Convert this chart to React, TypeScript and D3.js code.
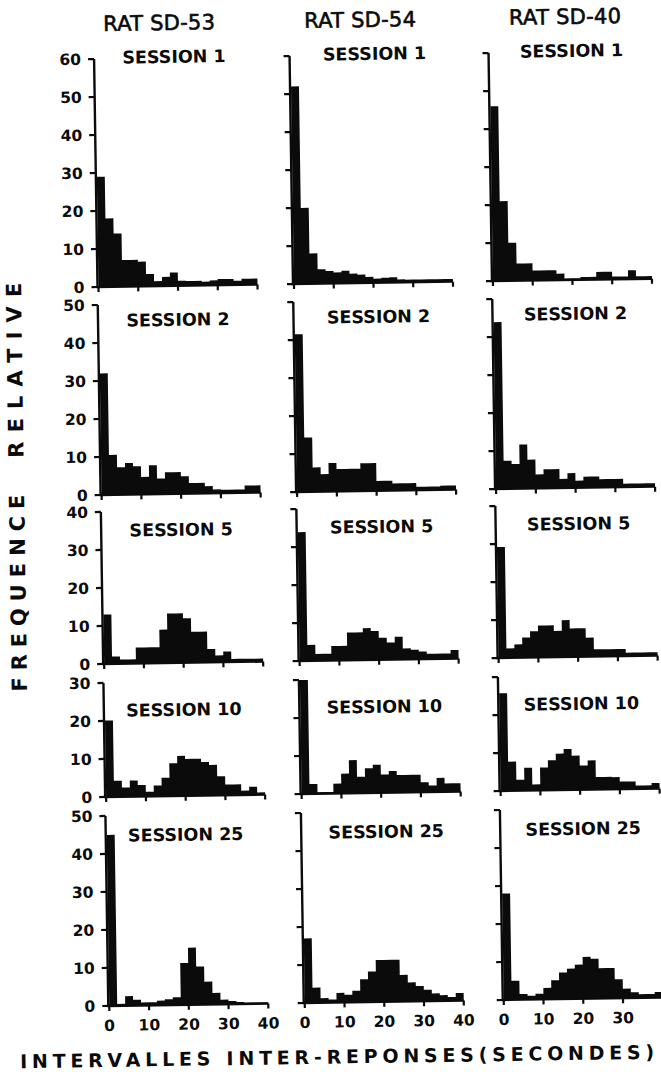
import React from 'react';
import * as d3 from 'd3';

// ---------- data ----------
const rats = ['RAT SD-53', 'RAT SD-54', 'RAT SD-40'];
const sessions = ['SESSION 1', 'SESSION 2', 'SESSION 5', 'SESSION 10', 'SESSION 25'];
const yMaxes = [60, 50, 40, 30, 50];
const xTicks = [0, 10, 20, 30, 40];
const binWidth = 2; // seconds
const xMax = 40;

// relative frequency (%) per 2-second bin, 0–40 s
const sd53_s1 = [29, 18, 14, 7, 7, 6.5, 3.2, 1.3, 2.4, 3.5, 1.3, 1.2, 1.2, 1, 1.3, 1.6, 1.6, 1.1, 1.6, 1.6];
const sd54_s1 = [52, 20, 8, 3.8, 3.3, 2.9, 3.3, 2.5, 2.2, 1.6, 1.1, 1.3, 1.4, 0.8, 0.7, 0.7, 0.7, 0.7, 0.7, 0.7];
const sd40_s1 = [46, 21, 10, 4.5, 4.5, 2.6, 2.6, 2.6, 1.7, 0.4, 0.4, 0.7, 0.7, 2, 2, 0.7, 0.7, 2.3, 0.7, 0.7];

const sd53_s2 = [32, 10.5, 7.2, 8.3, 7.4, 4.6, 7.6, 4.1, 5.7, 5.7, 4.6, 2.8, 2.8, 1.9, 1, 0.9, 0.9, 0.9, 1.9, 1.9];
const sd54_s2 = [41.5, 14.3, 6.4, 4.6, 7.5, 5.9, 5.9, 5.9, 7.3, 7.3, 2.6, 2.6, 1.9, 1.9, 1.9, 0.9, 0.9, 0.9, 1.1, 1.1];
const sd40_s2 = [43.9, 7.4, 6.5, 11.6, 7.6, 3.7, 5, 5, 2.4, 3.9, 1.9, 2.9, 2.9, 2.2, 2.2, 2.2, 0.9, 0.9, 0.9, 0.9];

const sd53_s5 = [13, 1.9, 1.1, 1.1, 4.2, 4.2, 4.2, 8.8, 13, 13, 11.7, 8.1, 8.1, 3.5, 1.8, 2.8, 0.8, 0.8, 0.8, 0.8];
const sd54_s5 = [33.9, 4.2, 1.8, 1.8, 3.8, 3.8, 7.3, 7.3, 8.4, 7.6, 5.8, 4.5, 6, 2.9, 2.5, 2, 1.4, 1.4, 1.4, 2.3];
const sd40_s5 = [29.2, 2.5, 3.5, 5.3, 6.9, 8.4, 8.4, 6.9, 9.7, 7.5, 7.5, 5, 1.9, 1.9, 1.9, 1.9, 0.9, 0.9, 0.9, 0.9];

const sd53_s10 = [20.1, 4.2, 2.4, 4.2, 3, 1.2, 2.8, 4.8, 8.6, 10.5, 9.7, 9.7, 8.8, 8, 5, 2.8, 2.8, 1.1, 2.1, 0.6];
const sd54_s10 = [30, 2.6, 0.4, 0.4, 2.6, 5.2, 8.7, 4.3, 6.5, 7.4, 4.8, 5.7, 4.6, 4.6, 4.6, 2.6, 1.7, 3.7, 2.2, 2.2];
const sd40_s10 = [25.7, 7.7, 2.9, 6, 1.6, 6, 7.9, 9.6, 10.8, 9, 6.4, 7.7, 3.3, 3.3, 3.2, 2, 2, 0.9, 0.9, 1.5];

const sd53_s25 = [45, 0.5, 2.5, 1.5, 0.8, 0.8, 1.2, 1.5, 2, 11, 15, 10, 6, 3, 1.2, 0.8, 0.5, 0.3, 0.3, 0.3];
const sd54_s25 = [17, 4, 1.2, 0.8, 2.5, 2, 3, 6, 8, 11, 11, 11, 7, 5, 4, 3, 2, 1.5, 1, 2];
const sd40_s25 = [28, 5, 1.5, 1, 1.5, 3, 5, 7, 8, 9, 11, 10.5, 8, 8, 5, 2.5, 1.5, 1, 1, 1.5];

const grid = [
  [sd53_s1, sd54_s1, sd40_s1],
  [sd53_s2, sd54_s2, sd40_s2],
  [sd53_s5, sd54_s5, sd40_s5],
  [sd53_s10, sd54_s10, sd40_s10],
  [sd53_s25, sd54_s25, sd40_s25],
];

// ---------- layout ----------
const W = 661;
const H = 1090;
const colAxisX = [97.5, 293, 492];
const plotW = 159;
const rowBase = [287, 495, 664, 797, 1006];
const pxPerUnit = 3.8;
const titleDx = [80, 85, 83];
const titleDy = [5, 22, 25, 34, 26];
const headerX = [163, 364, 569];
const rotation = -0.86;
const FONT = '"DejaVu Sans", Verdana, sans-serif';
const INK = '#0b0b0b';

function Panel({ values, row, col }: { values: number[]; row: number; col: number }) {
  const ax = colAxisX[col];
  const base = rowBase[row];
  const yMax = yMaxes[row];
  const x = d3.scaleLinear().domain([0, xMax]).range([ax + 1, ax + 1 + plotW]);
  const y = d3.scaleLinear().domain([0, yMax]).range([base, base - yMax * pxPerUnit]);
  const pts = values.map((v, i) => ({ x: i * binWidth, v }));
  pts.push({ x: xMax, v: values[values.length - 1] });
  const area = d3
    .area<{ x: number; v: number }>()
    .x((d) => x(d.x))
    .y0(y(0))
    .y1((d) => y(d.v))
    .curve(d3.curveStepAfter);
  const yTicks = d3.range(0, yMax + 1, 10);
  const axisPath = `M${ax},${y(yMax)}V${base}H${x(xMax)}`;
  // the page edge cuts off the last label of the right-hand column
  const shownXLabels = xTicks.filter((t) => x(t) + 12 < W - 12);
  return (
    <g>
      <path d={area(pts) || ''} fill={INK} />
      <path d={axisPath} fill="none" stroke={INK} strokeWidth={2.4} strokeLinejoin="miter" />
      {yTicks.map((t) => (
        <line key={'yt' + t} x1={ax} x2={ax - 6} y1={y(t)} y2={y(t)} stroke={INK} strokeWidth={2.2} />
      ))}
      {xTicks.map((t) => (
        <line key={'xt' + t} x1={x(t)} x2={x(t)} y1={base} y2={base + 5} stroke={INK} strokeWidth={2.2} />
      ))}
      {col === 0 &&
        yTicks.map((t) => (
          <text
            key={'yl' + t}
            x={ax - 13}
            y={y(t)}
            dy="0.36em"
            textAnchor="end"
            fontFamily={FONT}
            fontWeight="bold"
            fontSize={15.5}
            fill={INK}
          >
            {t}
          </text>
        ))}
      {row === grid.length - 1 &&
        shownXLabels.map((t) => (
          <text
            key={'xl' + t}
            x={x(t)}
            y={base + 25}
            textAnchor="middle"
            fontFamily={FONT}
            fontWeight="bold"
            fontSize={15.5}
            fill={INK}
          >
            {t}
          </text>
        ))}
      <text
        x={ax + titleDx[col]}
        y={y(yMax) + titleDy[row]}
        textAnchor="middle"
        fontFamily={FONT}
        fontWeight="bold"
        fontSize={17.5}
        fill={INK}
      >
        {sessions[row]}
      </text>
    </g>
  );
}

export default function App() {
  return (
    <svg
      width={W}
      height={H}
      viewBox={`0 0 ${W} ${H}`}
      style={{ position: 'absolute', left: 0, top: 0, background: '#fff' }}
    >
      <rect x={0} y={0} width={W} height={H} fill="#fff" />
      <g transform={`rotate(${rotation}, ${colAxisX[0]}, ${rowBase[0]})`}>
        {rats.map((r, c) => (
          <text
            key={r}
            x={headerX[c]}
            y={31}
            textAnchor="middle"
            fontFamily={FONT}
            fontSize={21}
            fill={INK}
            stroke={INK}
            strokeWidth={0.6}
            textLength={112}
            lengthAdjust="spacing"
          >
            {r}
          </text>
        ))}
        {grid.map((rowVals, r) =>
          rowVals.map((vals, c) => <Panel key={r + '-' + c} values={vals} row={r} col={c} />)
        )}
        <text
          transform={`translate(21, 592) rotate(-90)`}
          textAnchor="middle"
          fontFamily={FONT}
          fontWeight="bold"
          fontSize={21}
          fill={INK}
          textLength={197}
          lengthAdjust="spacing"
        >
          FREQUENCE
        </text>
        <text
          transform={`translate(21, 369) rotate(-90)`}
          textAnchor="middle"
          fontFamily={FONT}
          fontWeight="bold"
          fontSize={21}
          fill={INK}
          textLength={175}
          lengthAdjust="spacing"
        >
          RELATIVE
        </text>
        <text
          x={8.5}
          y={1067}
          fontFamily={FONT}
          fontWeight="bold"
          fontSize={19}
          fill={INK}
          textLength={634}
          lengthAdjust="spacing"
        >
          INTERVALLES INTER-REPONSES(SECONDES)
        </text>
      </g>
    </svg>
  );
}
